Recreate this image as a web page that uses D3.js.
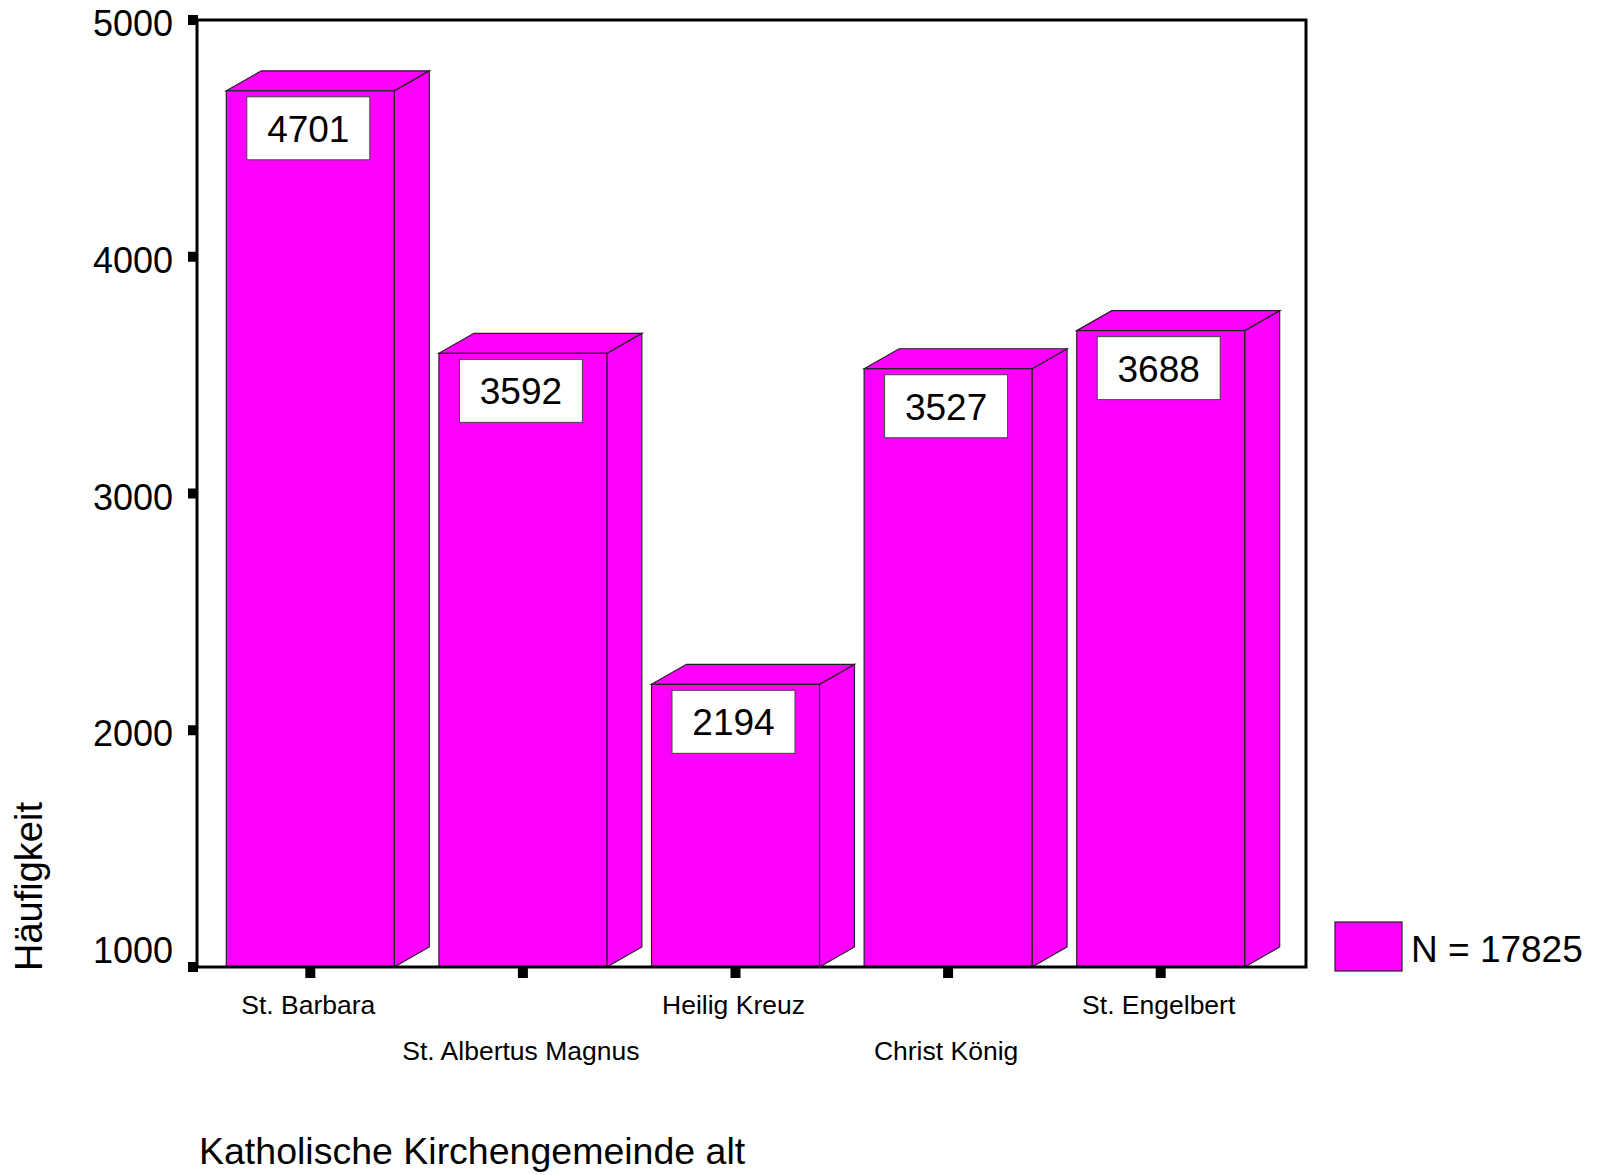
<!DOCTYPE html>
<html>
<head>
<meta charset="utf-8">
<script src="https://cdn.jsdelivr.net/npm/d3@7"></script>
<style>
  html, body { margin: 0; padding: 0; background: #fff; }
  svg { display: block; }
  text { font-family: "Liberation Sans", Arial, sans-serif; fill: #000; }
</style>
</head>
<body>
<svg id="chart" width="1606" height="1175"></svg>
<script>
const categories = ["St. Barbara", "St. Albertus Magnus", "Heilig Kreuz", "Christ König", "St. Engelbert"];
const counts = [4701, 3592, 2194, 3527, 3688];
const yTickValues = [1000, 2000, 3000, 4000, 5000];
const yTitle = "Häufigkeit";
const xTitle = "Katholische Kirchengemeinde alt";
const legendLabel = "N = 17825";

const svg = d3.select("#chart");
const plot = { left: 197, right: 1306, top: 20, bottom: 967 };
const depthX = 35, depthY = 20;
const barColor = "#ff00ff";
const edgeColor = "#222";

const x = d3.scaleBand().domain(categories).range([204, 1267]).paddingInner(0.21).paddingOuter(0.105);
const y = d3.scaleLinear().domain([1000, 5000]).range([plot.bottom, plot.top]);

// bars (3D)
const bars = svg.append("g");
categories.forEach((c, i) => {
  const x0 = x(c), x1 = x(c) + x.bandwidth();
  const yt = y(counts[i]), yb = y(1000);
  const g = bars.append("g");
  g.append("polygon")
    .attr("points", [[x1, yt], [x1 + depthX, yt - depthY], [x1 + depthX, yb - depthY], [x1, yb]].map(p => p.join(",")).join(" "))
    .attr("fill", barColor).attr("stroke", edgeColor).attr("stroke-width", 1.2);
  g.append("polygon")
    .attr("points", [[x0, yt], [x0 + depthX, yt - depthY], [x1 + depthX, yt - depthY], [x1, yt]].map(p => p.join(",")).join(" "))
    .attr("fill", barColor).attr("stroke", edgeColor).attr("stroke-width", 1.2);
  g.append("rect")
    .attr("x", x0).attr("y", yt).attr("width", x1 - x0).attr("height", yb - yt)
    .attr("fill", barColor).attr("stroke", edgeColor).attr("stroke-width", 1.2);
  const bw = 123, bh = 63;
  const cx = x0 + x.bandwidth() / 2 - 2;
  g.append("rect")
    .attr("x", cx - bw / 2).attr("y", yt + 6).attr("width", bw).attr("height", bh)
    .attr("fill", "#fff").attr("stroke", "#444").attr("stroke-width", 1);
  g.append("text")
    .attr("x", cx).attr("y", yt + 6 + 45)
    .attr("text-anchor", "middle").attr("font-size", 37)
    .text(counts[i]);
});

// frame
svg.append("rect")
  .attr("x", plot.left).attr("y", plot.top)
  .attr("width", plot.right - plot.left).attr("height", plot.bottom - plot.top)
  .attr("fill", "none").attr("stroke", "#000").attr("stroke-width", 3);

// y ticks and labels
const yAxis = svg.append("g");
yTickValues.forEach(v => {
  const ty = y(v);
  yAxis.append("rect").attr("x", 188).attr("y", ty - 5).attr("width", 10).attr("height", 10).attr("fill", "#000");
  yAxis.append("text")
    .attr("x", 173).attr("y", Math.min(ty + 16, plot.bottom - 4))
    .attr("text-anchor", "end").attr("font-size", 36)
    .text(v);
});

// x ticks and labels
const xAxis = svg.append("g");
categories.forEach((c, i) => {
  const cx = x(c) + x.bandwidth() / 2;
  xAxis.append("rect").attr("x", cx - 5).attr("y", plot.bottom + 1).attr("width", 10).attr("height", 10).attr("fill", "#000");
  xAxis.append("text")
    .attr("x", cx - 2).attr("y", i % 2 === 0 ? 1014 : 1060)
    .attr("text-anchor", "middle").attr("font-size", 26.5)
    .text(c);
});

// axis titles
svg.append("text")
  .attr("transform", "translate(42,971) rotate(-90)")
  .attr("font-size", 38)
  .text(yTitle);
svg.append("text")
  .attr("x", 199).attr("y", 1164)
  .attr("font-size", 37.5)
  .text(xTitle);

// legend
svg.append("rect")
  .attr("x", 1335).attr("y", 922).attr("width", 67).attr("height", 49)
  .attr("fill", barColor).attr("stroke", edgeColor).attr("stroke-width", 1.2);
svg.append("text")
  .attr("x", 1411).attr("y", 962)
  .attr("font-size", 37)
  .text(legendLabel);
</script>
</body>
</html>
